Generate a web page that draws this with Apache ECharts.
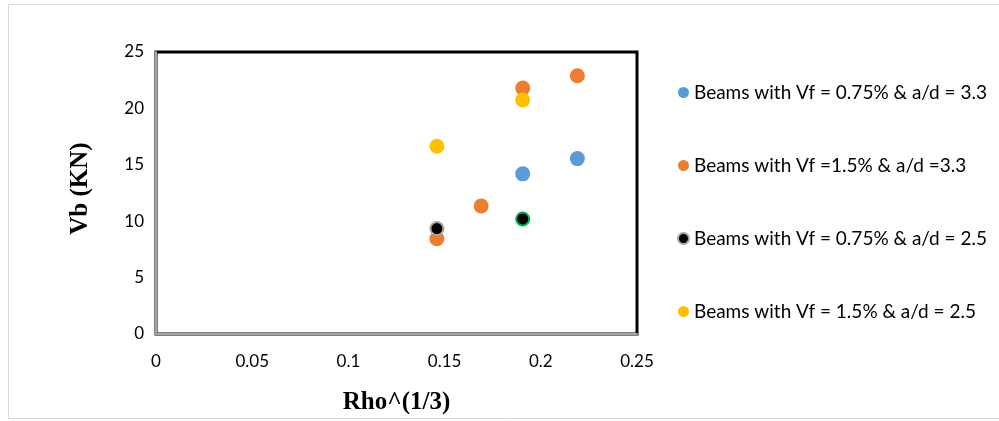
<!DOCTYPE html>
<html>
<head>
<meta charset="utf-8">
<script src="https://cdn.jsdelivr.net/npm/echarts@6/dist/echarts.min.js"></script>
<style>
  html, body { margin: 0; padding: 0; background: #fff; }
  #chart { width: 999px; height: 421px; }
</style>
</head>
<body>
<div id="chart"></div>
<script>
// Shear capacity Vb against the cube root of the reinforcement ratio
const seriesNames = [
  'Beams with Vf = 0.75% & a/d = 3.3',
  'Beams with Vf =1.5% & a/d =3.3',
  'Beams with Vf = 0.75% & a/d = 2.5',
  'Beams with Vf = 1.5% & a/d = 2.5'
];
const vf075ad33 = [[0.1906, 14.2], [0.219, 15.55]];
const vf15ad33 = [[0.146, 8.45], [0.169, 11.35], [0.1906, 21.8], [0.219, 22.9]];
const vf075ad25 = [[0.146, 9.35], [0.1906, 10.2]];
const vf15ad25 = [[0.146, 16.65], [0.1906, 20.75]];
const xTicks = [0, 0.05, 0.1, 0.15, 0.2, 0.25];
const yTicks = [0, 5, 10, 15, 20, 25];

const chart = echarts.init(document.getElementById('chart'), null, { renderer: 'canvas' });
const labelFont = 'Lato, "Open Sans", sans-serif';
const titleFont = '"Liberation Serif", "Times New Roman", serif';

chart.setOption({
  animation: false,
  backgroundColor: '#fff',
  graphic: [{
    type: 'rect',
    shape: { x: 8.5, y: 4.5, width: 1000, height: 414 },
    style: { fill: 'none', stroke: '#d9d9d9', lineWidth: 1 },
    z: -10
  }],
  grid: {
    left: 156, top: 52, right: 362, bottom: 87,
    show: true, borderColor: '#000', borderWidth: 3, backgroundColor: '#fff'
  },
  legend: {
    orient: 'vertical',
    left: 672, top: 78,
    itemGap: 54,
    itemWidth: 11, itemHeight: 11,
    icon: 'circle',
    textStyle: { fontFamily: labelFont, fontSize: 19, color: '#000', padding: [0, 0, 0, 0] },
    data: seriesNames
  },
  xAxis: {
    type: 'value',
    min: xTicks[0], max: xTicks[xTicks.length - 1], interval: 0.05,
    name: 'Rho^(1/3)',
    nameLocation: 'middle', nameGap: 56,
    nameTextStyle: { fontFamily: titleFont, fontWeight: 'bold', fontSize: 25, color: '#000' },
    axisLine: { show: true, lineStyle: { color: '#a6a6a6', width: 2 } },
    axisTick: { show: false },
    splitLine: { show: false },
    axisLabel: { fontFamily: labelFont, fontSize: 17, color: '#000', margin: 19,
      formatter: v => String(+v.toFixed(2)) }
  },
  yAxis: {
    type: 'value',
    min: yTicks[0], max: yTicks[yTicks.length - 1], interval: 5,
    name: 'Vb (KN)',
    nameLocation: 'middle', nameGap: 63, nameRotate: 90,
    nameTextStyle: { fontFamily: titleFont, fontWeight: 'bold', fontSize: 25, color: '#000',
      padding: [0, 0, 0, 9] },
    axisLine: { show: true, lineStyle: { color: '#a6a6a6', width: 2 } },
    axisTick: { show: false },
    splitLine: { show: false },
    axisLabel: { fontFamily: labelFont, fontSize: 17, color: '#000', margin: 12 }
  },
  series: [
    {
      name: seriesNames[0], type: 'scatter', symbolSize: 15,
      itemStyle: { color: '#5b9bd5', opacity: 1 }, data: vf075ad33
    },
    {
      name: seriesNames[1], type: 'scatter', symbolSize: 15,
      itemStyle: { color: '#ed7d31', opacity: 1 }, data: vf15ad33
    },
    {
      name: seriesNames[3], type: 'scatter', symbolSize: 15,
      itemStyle: { color: '#ffc000', opacity: 1 }, data: vf15ad25
    },
    {
      name: seriesNames[2], type: 'scatter', symbolSize: 13, z: 3,
      itemStyle: { color: '#000', borderColor: '#a6a6a6', borderWidth: 2, opacity: 1 },
      data: vf075ad25.map((p, i) => i === 1
        ? { value: p, itemStyle: { borderColor: '#00b050' } }
        : { value: p })
    }
  ]
});
</script>
</body>
</html>
